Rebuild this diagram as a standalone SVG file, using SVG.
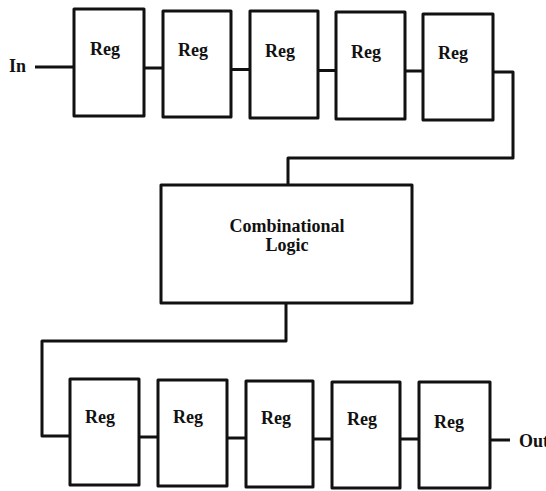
<svg xmlns="http://www.w3.org/2000/svg" width="546" height="491" viewBox="0 0 546 491">
<style>
.box{fill:#fff;stroke:#111;stroke-width:3;stroke-linejoin:round}
.wire{fill:none;stroke:#111;stroke-width:3;stroke-linejoin:round}
.t{font-family:"Liberation Serif","Times New Roman",serif;font-weight:bold;font-size:18px;fill:#111}
.m{text-anchor:middle}
</style>
<rect width="546" height="491" fill="#fff"/>
<g id="connectors">
<path class="wire" d="M35 67H74"/>
<path class="wire" d="M144 68H163"/>
<path class="wire" d="M231 69.5H250"/>
<path class="wire" d="M318 70.5H336"/>
<path class="wire" d="M405 71H423"/>
<path class="wire" d="M493 72H513V158H288V186"/>
<path class="wire" d="M286 303V341H42V436H70"/>
<path class="wire" d="M139 437H158"/>
<path class="wire" d="M227 438H246"/>
<path class="wire" d="M313 439H332"/>
<path class="wire" d="M400 439H419"/>
<path class="wire" d="M490 440H510"/>
</g>
<g id="label-in"><text class="t" x="9" y="72">In</text></g>
<g id="label-out"><text class="t" x="519" y="447">Out</text></g>
<g id="reg-top-1"><rect class="box" x="74" y="9" width="70" height="107"/><text class="t m" x="105" y="55">Reg</text></g>
<g id="reg-top-2"><rect class="box" x="163" y="11" width="68" height="106"/><text class="t m" x="193" y="56">Reg</text></g>
<g id="reg-top-3"><rect class="box" x="250" y="11" width="68" height="107"/><text class="t m" x="280" y="57">Reg</text></g>
<g id="reg-top-4"><rect class="box" x="336" y="12" width="69" height="107"/><text class="t m" x="366" y="58">Reg</text></g>
<g id="reg-top-5"><rect class="box" x="423" y="14" width="70" height="106"/><text class="t m" x="453" y="59">Reg</text></g>
<g id="comb-logic"><rect class="box" x="161" y="185" width="251" height="118"/><text class="t m" x="287" y="232" font-size="17">Combinational</text><text class="t m" x="287" y="251" font-size="17">Logic</text></g>
<g id="reg-bot-1"><rect class="box" x="70" y="379" width="69" height="106"/><text class="t m" x="100" y="423">Reg</text></g>
<g id="reg-bot-2"><rect class="box" x="158" y="380" width="69" height="106"/><text class="t m" x="188" y="423">Reg</text></g>
<g id="reg-bot-3"><rect class="box" x="246" y="381" width="67" height="106"/><text class="t m" x="276" y="424">Reg</text></g>
<g id="reg-bot-4"><rect class="box" x="332" y="382" width="68" height="106"/><text class="t m" x="362" y="425">Reg</text></g>
<g id="reg-bot-5"><rect class="box" x="419" y="382" width="71" height="106"/><text class="t m" x="449" y="428">Reg</text></g>
</svg>
